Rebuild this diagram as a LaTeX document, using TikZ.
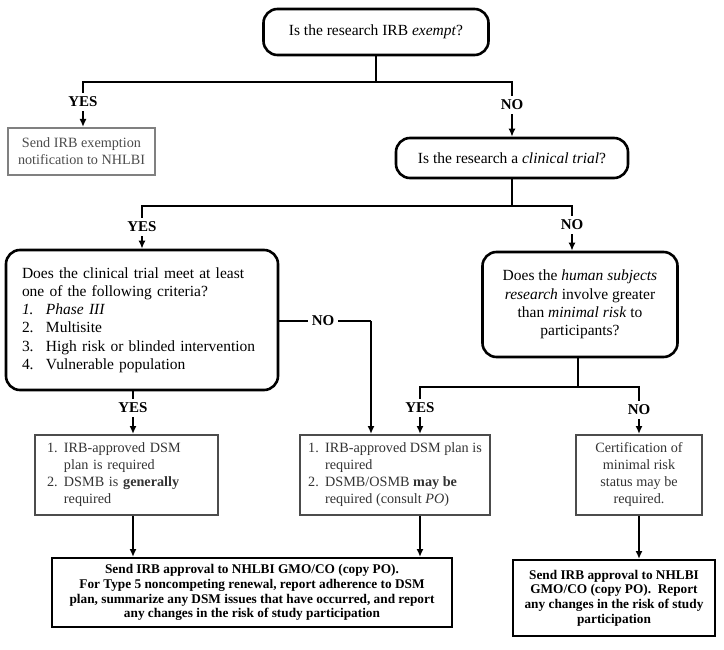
\documentclass[tikz,border=0pt]{standalone}
\usepackage{fontspec}
\setmainfont{Liberation Serif}
\usetikzlibrary{arrows.meta}

\begin{document}
\begin{tikzpicture}[x=1pt, y=-1pt, line width=2pt, >={Latex[length=8pt,width=7pt]},
question node/.style={draw,rounded corners=14pt,line width=2.6pt,inner sep=0pt,font=\fontsize{15.5}{18.2}\selectfont},
step box/.style={draw=black!70,line width=2pt,text=black!80,inner sep=0pt,font=\fontsize{14.2}{17}\selectfont},
send box/.style={draw,line width=2pt,align=center,inner sep=0pt,font=\fontsize{13.3}{14.8}\selectfont\bfseries},
answer/.style={inner sep=3pt,font=\fontsize{15}{17}\selectfont\bfseries}]
\useasboundingbox (0,0) rectangle (724,650);
\begin{scope}
\node[question node,minimum width=225,minimum height=46] (irb) at (376,32) {Is the research IRB \textit{exempt}?};
\node[step box,draw=black!50,text=black!70,minimum width=147,minimum height=47,align=center] (exempt) at (81.5,151.5) {Send IRB exemption\\notification to NHLBI};
\node[question node,minimum width=232,minimum height=40] (trial) at (512,158) {Is the research a \textit{clinical trial}?};
\node[question node,text width=240,inner xsep=16pt,minimum height=140,align=left] (criteria) at (142,320) {Does the clinical trial meet at least\\one of the following criteria?\\\textit{\makebox[24pt][l]{1.}Phase III}\\\makebox[24pt][l]{2.}Multisite\\\makebox[24pt][l]{3.}High risk or blinded intervention\\\makebox[24pt][l]{4.}Vulnerable population};
\node[question node,minimum width=195,minimum height=105,align=center] (risk) at (580,304.5) {Does the \textit{human subjects}\\\textit{research} involve greater\\than \textit{minimal risk} to\\participants?};
\node[step box,text width=159,inner xsep=12pt,minimum height=80,align=left] (plan1) at (126.5,475) {\makebox[17pt][l]{1.}IRB-approved DSM\\\hspace*{17pt}plan is required\\\makebox[17pt][l]{2.}DSMB is \textbf{generally}\\\hspace*{17pt}required};
\node[step box,minimum width=190,minimum height=80,align=left] (plan2) at (395,475) {\makebox[17pt][l]{1.}IRB-approved DSM plan is\\\hspace*{17pt}required\\\makebox[17pt][l]{2.}DSMB/OSMB \textbf{may be}\\\hspace*{17pt}required (consult \textit{PO})};
\node[step box,minimum width=126,minimum height=80,align=center] (cert) at (639,475) {Certification of\\minimal risk\\status may be\\required.};
\node[send box,minimum width=400,minimum height=69] (send1) at (252,592.5) {Send IRB approval to NHLBI GMO/CO (copy PO).\\For Type 5 noncompeting renewal, report adherence to DSM\\plan, summarize any DSM issues that have occurred, and report\\any changes in the risk of study participation};
\node[send box,minimum width=202,minimum height=76] (send2) at (614,598) {Send IRB approval to NHLBI\\GMO/CO (copy PO).~ Report\\any changes in the risk of study\\participation};
\end{scope}
\begin{scope}[every node/.style={answer}]
\node (yes1) at (83,102) {YES};
\node (no1) at (512,105) {NO};
\node (yes2) at (142,227) {YES};
\node (no2) at (572,225) {NO};
\node (no3) at (323,321) {NO};
\node (yes3) at (133,408) {YES};
\node (yes4) at (420,408) {YES};
\node (no4) at (639,410) {NO};
\end{scope}
\coordinate (j1) at (375,82);
\coordinate (j2) at (510,206);
\coordinate (j3) at (371,321);
\coordinate (j4) at (578,387);
\begin{scope}
\draw (irb.south) -- (irb.south |- j1);
\draw (yes1) |- (j1) -| (no1);
\draw[->] (yes1) -- (yes1 |- exempt.north);
\draw[->] (no1) -- (no1 |- trial.north);
\draw (trial.south) -- (trial.south |- j2);
\draw (yes2) |- (j2) -| (no2);
\draw[->] (yes2) -- (yes2 |- criteria.north);
\draw[->] (no2) -- (no2 |- risk.north);
\draw (criteria.east |- no3) -- (no3);
\draw (no3) -- (j3);
\draw[->] (j3) -- (j3 |- plan2.north);
\draw (criteria.south -| yes3) -- (yes3);
\draw[->] (yes3) -- (yes3 |- plan1.north);
\draw (risk.south -| j4) -- (j4);
\draw (yes4) |- (j4) -| (no4);
\draw[->] (yes4) -- (yes4 |- plan2.north);
\draw[->] (no4) -- (no4 |- cert.north);
\draw[->] (plan1.south -| yes3) -- (yes3 |- send1.north);
\draw[->] (plan2.south -| yes4) -- (yes4 |- send1.north);
\draw[->] (cert.south -| no4) -- (no4 |- send2.north);
\end{scope}
\end{tikzpicture}
\end{document}
